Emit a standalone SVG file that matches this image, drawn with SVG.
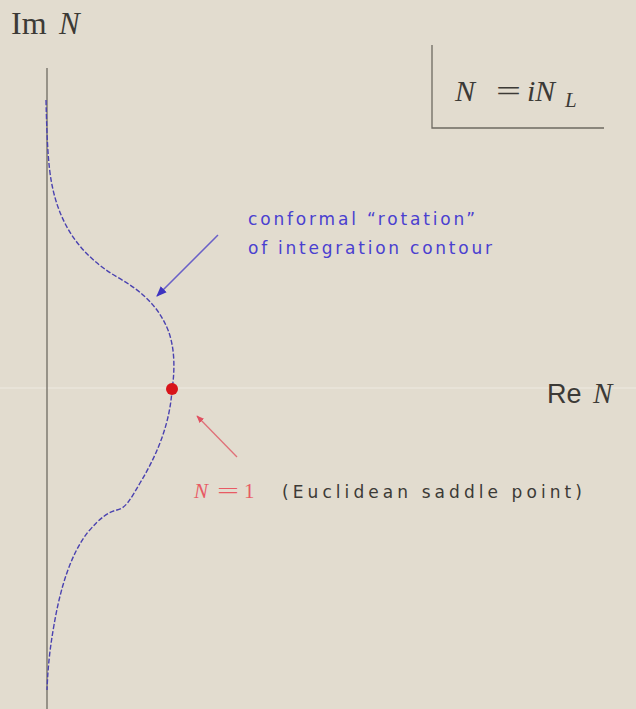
<svg xmlns="http://www.w3.org/2000/svg" width="636" height="709" viewBox="0 0 636 709">
<defs>
<style>
.ax{stroke:#6e6a62;stroke-width:1.3;fill:none}
.lbl{font-family:"DejaVu Sans",sans-serif;fill:#3c3a36}
.serif{font-family:"Liberation Serif",serif;fill:#3c3a36}
.it{font-style:italic}
.blue{font-family:"DejaVu Sans",sans-serif;fill:#4a40d0;font-size:17px}
.contour{stroke:#4a42b0;stroke-width:1.4;fill:none;stroke-dasharray:5 2}
</style>
<marker id="ab" viewBox="0 0 10 10" refX="9" refY="5" markerWidth="7" markerHeight="7" orient="auto"><path d="M0,1 L10,5 L0,9 Z" fill="#3d33c0"/></marker>
<marker id="ar" viewBox="0 0 10 10" refX="9" refY="5" markerWidth="6" markerHeight="6" orient="auto"><path d="M0,1 L10,5 L0,9 Z" fill="#e05060"/></marker>
</defs>
<rect width="636" height="709" fill="#e2dccf"/>
<g id="axes">
<line x1="0" y1="388" x2="636" y2="388" stroke="#e8e3d8" stroke-width="2"/>
<line class="ax" x1="47" y1="68" x2="47" y2="709"/>
<text class="serif" x="11" y="34" font-size="32">Im</text>
<text class="serif it" x="59" y="34" font-size="31">N</text>
<text font-family="Liberation Sans,sans-serif" fill="#3c3a36" x="547" y="403" font-size="27">Re</text>
<text class="serif it" x="593" y="403" font-size="29">N</text>
</g>
<g id="box">
<path class="ax" d="M432,45 V128 H604"/>
<text class="serif" y="101" font-size="30"><tspan class="it" x="455">N</tspan><tspan x="496" textLength="25" lengthAdjust="spacingAndGlyphs">=</tspan><tspan class="it" x="527">i</tspan><tspan class="it" x="535">N</tspan><tspan class="it" x="565" y="107" font-size="21">L</tspan></text>
</g>
<g id="contour">
<path class="contour" d="M46,100 C47,140 48,165 52,185 C60,225 80,255 117,277 C140,290 158,305 168,330 C175,348 175,370 172,390 C170,420 160,450 140,483 C130,500 126,508 117,510 C108,512 100,518 88,532 C70,555 60,590 54,625 C50,648 48,665 47,690"/>
</g>
<g id="saddle">
<circle cx="172" cy="389" r="6" fill="#d8141a"/>
</g>
<g id="connectors">
<line x1="218" y1="235" x2="157" y2="296" stroke="#6a60c8" stroke-width="1.5" marker-end="url(#ab)"/>
<line x1="237" y1="457" x2="197" y2="416" stroke="#e07078" stroke-width="1.3" marker-end="url(#ar)"/>
</g>
<g id="label-rotation">
<text class="blue" x="248" y="225" textLength="227" lengthAdjust="spacing">conformal “rotation”</text>
<text class="blue" x="248" y="254" textLength="244" lengthAdjust="spacing">of integration contour</text>
</g>
<g id="label-saddle">
<text font-family="Liberation Serif,serif" font-size="21" fill="#e85a64" y="498"><tspan font-style="italic" x="194">N</tspan><tspan x="217" textLength="22" lengthAdjust="spacingAndGlyphs">=</tspan><tspan x="244">1</tspan></text>
<text class="lbl" x="282" y="498" font-size="17" textLength="300" lengthAdjust="spacing">(Euclidean saddle point)</text>
</g>
</svg>
